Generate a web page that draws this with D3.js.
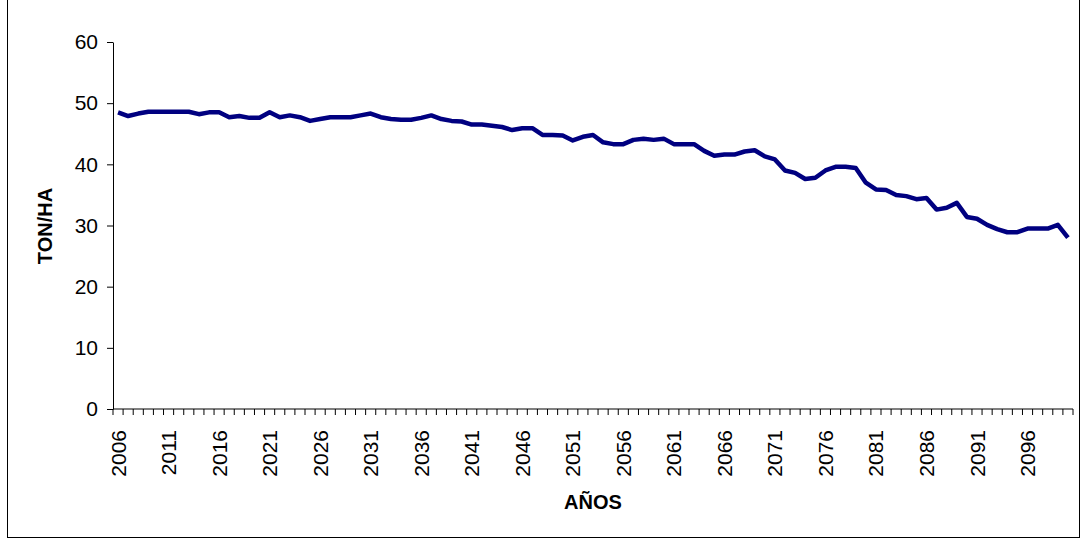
<!DOCTYPE html>
<html>
<head>
<meta charset="utf-8">
<script src="https://cdnjs.cloudflare.com/ajax/libs/d3/7.8.5/d3.min.js"></script>
<style>
  body { margin: 0; background: #fff; }
  svg { display: block; font-family: "Liberation Sans", Arial, sans-serif; }
</style>
</head>
<body>
<svg id="chart" width="1081" height="539"></svg>
<script>
// years 2006..2100, one category per year
const years = d3.range(2006, 2101);
// ton/ha
const tonHa = [
  48.5, 47.9, 48.3, 48.6, 48.6, 48.6, 48.6, 48.6, 48.2, 48.5,
  48.5, 47.7, 47.9, 47.6, 47.6, 48.5, 47.7, 48.0, 47.7, 47.1,
  47.4, 47.7, 47.7, 47.7, 48.0, 48.3, 47.7, 47.4, 47.3, 47.3,
  47.6, 48.0, 47.4, 47.1, 47.0, 46.5, 46.5, 46.3, 46.1, 45.6,
  45.9, 45.9, 44.8, 44.8, 44.7, 43.9, 44.5, 44.8, 43.6, 43.3,
  43.3, 44.0, 44.2, 44.0, 44.2, 43.3, 43.3, 43.3, 42.2, 41.4,
  41.6, 41.6, 42.1, 42.3, 41.3, 40.8, 39.0, 38.6, 37.6, 37.8,
  39.0, 39.6, 39.6, 39.4, 37.0, 35.9, 35.8, 35.0, 34.8, 34.3,
  34.5, 32.6, 32.9, 33.7, 31.4, 31.1, 30.1, 29.4, 28.9, 28.9,
  29.5, 29.5, 29.5, 30.1, 28.0
];
const yTicks = [0, 10, 20, 30, 40, 50, 60];
const xLabelYears = years.filter(y => (y - 2006) % 5 === 0);

const svg = d3.select("#chart");
const margin = {top: 42, right: 8, bottom: 130, left: 113};
const plotW = 1073 - margin.left, plotH = 409 - margin.top;

// outer frame
svg.append("rect")
  .attr("x", 7.5).attr("y", -1).attr("width", 1072).attr("height", 538.5)
  .attr("fill", "none").attr("stroke", "#000").attr("stroke-width", 1);

const g = svg.append("g").attr("transform", `translate(${margin.left},${margin.top})`);

const x = d3.scaleBand().domain(years).range([0, plotW]);
const y = d3.scaleLinear().domain([0, 60]).range([plotH, 0]);

// y axis
const yAxis = g.append("g")
  .call(d3.axisLeft(y).tickValues(yTicks).tickSize(6).tickPadding(9).tickSizeOuter(0));
yAxis.select(".domain").attr("stroke", "#000");
yAxis.selectAll(".tick line").attr("stroke", "#000");
yAxis.selectAll("text").attr("font-size", 21).attr("fill", "#000")
  .attr("font-family", "Liberation Sans, Arial, sans-serif");

// x axis: tick marks on band boundaries
const xAxis = g.append("g").attr("transform", `translate(0,${plotH})`);
xAxis.append("line").attr("x1", 0).attr("x2", plotW).attr("stroke", "#000");
xAxis.selectAll("line.tk")
  .data(years.concat([null]))
  .join("line").attr("class", "tk")
  .attr("x1", (d, i) => i * x.step()).attr("x2", (d, i) => i * x.step())
  .attr("y1", 0).attr("y2", 6).attr("stroke", "#000");
xAxis.selectAll("text")
  .data(xLabelYears)
  .join("text")
  .attr("transform", d => `translate(${x(d) + x.bandwidth() / 2 + 7.5},${21}) rotate(-90)`)
  .attr("text-anchor", "end")
  .attr("font-size", 21)
  .attr("fill", "#000")
  .text(d => d);

// line
const line = d3.line()
  .x((d, i) => x(years[i]) + x.bandwidth() / 2)
  .y(d => y(d));
g.append("path")
  .datum(tonHa)
  .attr("d", line)
  .attr("fill", "none")
  .attr("stroke", "#000080")
  .attr("stroke-width", 4.5)
  .attr("stroke-linejoin", "round");

// axis titles
svg.append("text")
  .attr("transform", "translate(52,226) rotate(-90)")
  .attr("text-anchor", "middle")
  .attr("font-size", 20).attr("font-weight", "bold")
  .text("TON/HA");
svg.append("text")
  .attr("x", 593).attr("y", 509)
  .attr("text-anchor", "middle")
  .attr("font-size", 20).attr("font-weight", "bold")
  .text("AÑOS");
</script>
</body>
</html>
